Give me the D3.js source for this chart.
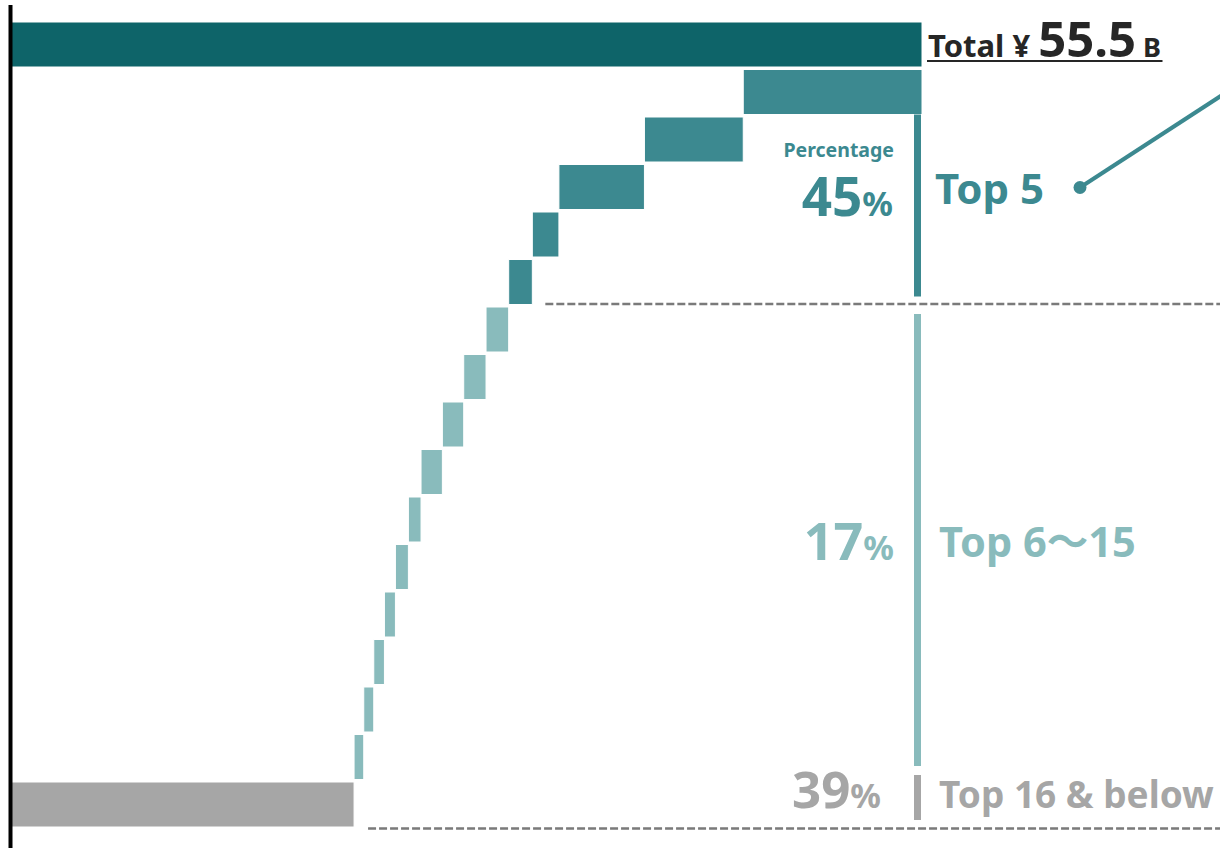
<!DOCTYPE html>
<html>
<head>
<meta charset="utf-8">
<script src="https://cdn.jsdelivr.net/npm/d3@7"></script>
<style>
  html, body { margin: 0; padding: 0; background: #ffffff; }
  svg { display: block; }
  text { font-family: "Noto Sans", "Noto Sans CJK JP", sans-serif; font-weight: 700; }
</style>
</head>
<body>
<svg id="chart" width="1220" height="848"></svg>
<script>
// ---------- data ----------
const totalValue = 55.5;
const rankLabels = ["Total", "1", "2", "3", "4", "5", "6", "7", "8", "9", "10", "11", "12", "13", "14", "15", "16+"];
const rankValues = [10.89, 6.02, 5.21, 1.62, 1.44, 1.38, 1.36, 1.30, 1.30, 0.77, 0.79, 0.67, 0.65, 0.61, 0.59];
const othersValue = 20.9;
const groupNames = ["Top 5", "Top 6～15", "Top 16 & below"];
const groupPercents = ["45", "17", "39"];
const totalLabel = ["Total ¥ ", "55.5", " B"];

// ---------- colours ----------
const cTotal = "#0e6469", cTop = "#3c8990", cMid = "#89bbbc", cGrey = "#a6a6a6", cDark = "#262626", cDash = "#7a7a7a";

const svg = d3.select("#chart");
const x = d3.scaleLinear().domain([0, totalValue]).range([11, 922]);
const y = d3.scaleBand().domain(rankLabels).range([20.75, 828.25]).paddingInner(0.0526).paddingOuter(0.0263);
const bw = y.bandwidth();

// build waterfall rows
const rows = [{ key: "Total", x0: 0, x1: totalValue, color: cTotal }];
let cum = 0;
rankValues.forEach((v, i) => {
  const x1 = totalValue - cum;
  cum += v;
  rows.push({ key: rankLabels[i + 1], x0: totalValue - cum, x1: x1, color: i < 5 ? cTop : cMid });
});
rows.push({ key: "16+", x0: 0, x1: othersValue, color: cGrey });

svg.append("g").selectAll("rect").data(rows).join("rect")
  .attr("x", d => x(d.x0))
  .attr("y", d => y(d.key))
  .attr("width", d => x(d.x1) - x(d.x0))
  .attr("height", bw)
  .attr("fill", d => d.color)
  .attr("stroke", "#ffffff")
  .attr("stroke-width", 1);

// left axis line
svg.append("line").attr("x1", 10.5).attr("x2", 10.5).attr("y1", 5).attr("y2", 848)
  .attr("stroke", "#000").attr("stroke-width", 4);

// dashed separators
const row5Right = totalValue - d3.sum(rankValues.slice(0, 4));
svg.append("line").attr("x1", x(row5Right) + 13).attr("x2", 1220)
  .attr("y1", y("6") - 3).attr("y2", y("6") - 3)
  .attr("stroke", cDash).attr("stroke-width", 2.4).attr("stroke-dasharray", "8,3");
svg.append("line").attr("x1", x(othersValue) + 14).attr("x2", 1220)
  .attr("y1", y("16+") + bw + 1.5).attr("y2", y("16+") + bw + 1.5)
  .attr("stroke", cDash).attr("stroke-width", 2.4).attr("stroke-dasharray", "8,3");

// brackets
const bx = x(totalValue) - 4.5;
const brackets = [
  { y0: y("1") + bw, y1: y("5") + bw - 8, color: cTop },
  { y0: y("6") + 7, y1: y("15") + bw - 13.5, color: cMid },
  { y0: y("16+") - 7, y1: y("16+") + bw - 7, color: cGrey }
];
svg.append("g").selectAll("line").data(brackets).join("line")
  .attr("x1", bx).attr("x2", bx).attr("y1", d => d.y0).attr("y2", d => d.y1)
  .attr("stroke", d => d.color).attr("stroke-width", 7);

// total label
const tl = svg.append("text").attr("x", 928).attr("y", 56.5).attr("fill", cDark);
tl.append("tspan").text(totalLabel[0]).attr("font-size", 31);
tl.append("tspan").text(totalLabel[1]).attr("font-size", 49);
tl.append("tspan").text(totalLabel[2]).attr("font-size", 27);
svg.append("line").attr("x1", 927).attr("x2", 1162.5).attr("y1", 61).attr("y2", 61)
  .attr("stroke", cDark).attr("stroke-width", 2);

// percentage labels
svg.append("text").attr("x", 894).attr("y", 157).attr("text-anchor", "end")
  .attr("fill", cTop).attr("font-size", 19.5).text("Percentage");

const pctSpecs = [
  { p: groupPercents[0], xr: 893, yb: 216, color: cTop, big: 53, small: 34 },
  { p: groupPercents[1], xr: 894, yb: 560, color: cMid, big: 52, small: 34 },
  { p: groupPercents[2], xr: 881, yb: 808, color: cGrey, big: 51, small: 34 }
];
pctSpecs.forEach(s => {
  const t = svg.append("text").attr("x", s.xr).attr("y", s.yb).attr("text-anchor", "end").attr("fill", s.color);
  t.append("tspan").attr("font-size", s.big).text(s.p);
  t.append("tspan").attr("font-size", s.small).text("%");
});

// group names
const nameSpecs = [
  { n: groupNames[0], x: 935, yb: 204, color: cTop, size: 42 },
  { n: groupNames[1], x: 939, yb: 557, color: cMid, size: 41.5 },
  { n: groupNames[2], x: 939, yb: 808, color: cGrey, size: 37 }
];
nameSpecs.forEach(s => {
  svg.append("text").attr("x", s.x).attr("y", s.yb).attr("fill", s.color)
    .attr("font-size", s.size).text(s.n);
});

// pointer line with dot
svg.append("line").attr("x1", 1080).attr("y1", 187.5).attr("x2", 1240).attr("y2", 83.5)
  .attr("stroke", cTop).attr("stroke-width", 4);
svg.append("circle").attr("cx", 1080).attr("cy", 187.5).attr("r", 6.5).attr("fill", cTop);
</script>
</body>
</html>
